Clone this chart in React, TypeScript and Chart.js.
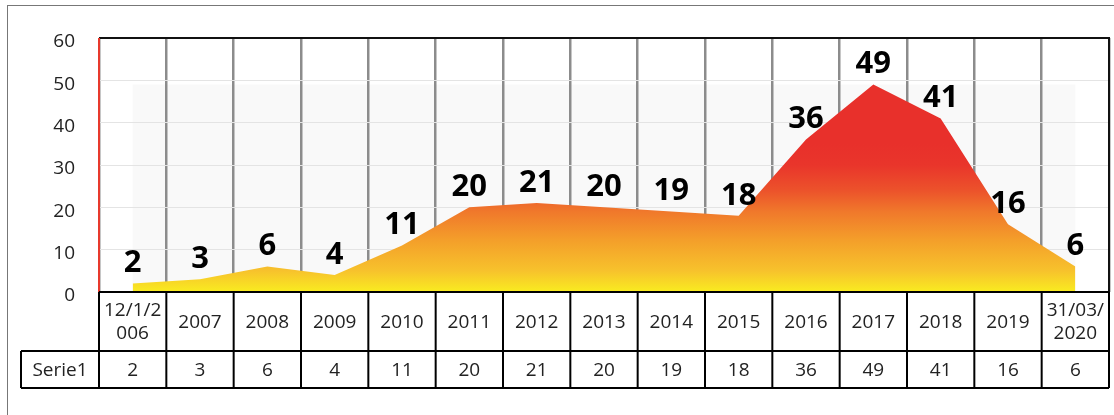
import React, { useEffect, useRef } from "react";
import { Chart, registerables } from "chart.js";

Chart.register(...registerables);

const categories: string[] = [
  "12/1/2006", "2007", "2008", "2009", "2010", "2011", "2012", "2013",
  "2014", "2015", "2016", "2017", "2018", "2019", "31/03/2020",
];
const seriesName = "Serie1";
const values: number[] = [2, 3, 6, 4, 11, 20, 21, 20, 19, 18, 36, 49, 41, 16, 6];
const yMin = 0;
const yMax = 60;
const yStep = 10;

const FONT = "'Open Sans', 'DejaVu Sans', sans-serif";

function wrapLabel(label: string, n = 6): string[] {
  if (label.length <= n) return [label];
  const out: string[] = [];
  for (let i = 0; i < label.length; i += n) out.push(label.slice(i, i + n));
  return out;
}

const shadePlugin = {
  id: "shade",
  beforeDraw(chart: any) {
    const { ctx, scales } = chart;
    const x = scales.x;
    const y = scales.y;
    if (!x || !y) return;
    const x0 = x.getPixelForValue(0);
    const x1 = x.getPixelForValue(values.length - 1);
    const yt = y.getPixelForValue(49);
    const yb = y.getPixelForValue(0);
    ctx.save();
    ctx.fillStyle = "#f9f9f9";
    ctx.fillRect(x0, yt, x1 - x0, yb - yt);
    ctx.restore();
  },
};

const framePlugin = {
  id: "frameTable",
  afterDatasetsDraw(chart: any) {
    const { ctx, chartArea, scales } = chart;
    const x = scales.x;
    const meta = chart.getDatasetMeta(0);
    ctx.save();
    // data labels
    ctx.fillStyle = "#000";
    ctx.font = `bold 31px ${FONT}`;
    ctx.textAlign = "center";
    ctx.textBaseline = "middle";
    meta.data.forEach((pt: any, i: number) => {
      ctx.fillText(String(values[i]), pt.x, pt.y - 20);
    });

    // plot frame
    const { left, right, top, bottom } = chartArea;
    ctx.lineWidth = 2;
    ctx.strokeStyle = "#111";
    ctx.beginPath();
    ctx.moveTo(left, top);
    ctx.lineTo(right, top);
    ctx.lineTo(right, bottom);
    ctx.stroke();
    ctx.strokeStyle = "#e8392c";
    ctx.beginPath();
    ctx.moveTo(left, top);
    ctx.lineTo(left, bottom);
    ctx.stroke();

    // data table
    const half = (x.getPixelForValue(1) - x.getPixelForValue(0)) / 2;
    const row1Bottom = bottom + 59;
    const row2Bottom = row1Bottom + 37;
    const headerLeft = 21;
    ctx.strokeStyle = "#000";
    ctx.lineWidth = 2;
    ctx.beginPath();
    ctx.moveTo(left, bottom);
    ctx.lineTo(right, bottom);
    ctx.moveTo(headerLeft, row1Bottom);
    ctx.lineTo(right, row1Bottom);
    ctx.moveTo(headerLeft, row2Bottom);
    ctx.lineTo(right, row2Bottom);
    ctx.moveTo(headerLeft, row1Bottom);
    ctx.lineTo(headerLeft, row2Bottom);
    for (let i = 0; i <= categories.length; i++) {
      const bx = i < categories.length ? x.getPixelForValue(i) - half : x.getPixelForValue(i - 1) + half;
      ctx.moveTo(bx, bottom);
      ctx.lineTo(bx, row2Bottom);
    }
    ctx.stroke();

    ctx.fillStyle = "#222";
    ctx.font = `19px ${FONT}`;
    ctx.textAlign = "center";
    ctx.textBaseline = "middle";
    const r1c = (bottom + row1Bottom) / 2 + 1;
    const r2c = (row1Bottom + row2Bottom) / 2 + 1;
    const lh = 23;
    categories.forEach((c, i) => {
      const cx = x.getPixelForValue(i);
      const lines = wrapLabel(c);
      const startY = r1c - ((lines.length - 1) * lh) / 2;
      lines.forEach((ln, k) => ctx.fillText(ln, cx, startY + k * lh));
      ctx.fillText(String(values[i]), cx, r2c);
    });
    ctx.fillText(seriesName, (headerLeft + left) / 2, r2c);

    // outer frame
    ctx.strokeStyle = "#777";
    ctx.lineWidth = 1;
    ctx.strokeRect(7.5, 5.5, 1300, 600);
    ctx.restore();
  },
};

export default function App() {
  const canvasRef = useRef<HTMLCanvasElement | null>(null);

  useEffect(() => {
    if (!canvasRef.current) return;
    const chart = new Chart(canvasRef.current, {
      type: "line",
      data: {
        labels: categories,
        datasets: [
          {
            label: seriesName,
            data: values,
            fill: "origin",
            tension: 0,
            borderWidth: 0,
            pointRadius: 0,
            backgroundColor: (ctx: any) => {
              const chart = ctx.chart;
              const y = chart.scales?.y;
              if (!chart.chartArea || !y) return "#f39828";
              const g = chart.ctx.createLinearGradient(0, y.getPixelForValue(0), 0, y.getPixelForValue(35));
              g.addColorStop(0, "#f9ec20");
              g.addColorStop(0.143, "#f7c22c");
              g.addColorStop(0.343, "#f4a02a");
              g.addColorStop(0.543, "#f0782b");
              g.addColorStop(0.686, "#ec522b");
              g.addColorStop(0.857, "#e9352b");
              g.addColorStop(1, "#e8302b");
              return g;
            },
          },
        ],
      },
      options: {
        animation: false,
        responsive: false,
        devicePixelRatio: 1,
        layout: { padding: { top: 38, right: 5, bottom: 123, left: 0 } },
        plugins: {
          legend: { display: false },
          tooltip: { enabled: false },
          title: { display: false },
        },
        scales: {
          x: {
            type: "category",
            offset: true,
            grid: { offset: true, color: "#8c8c8c", lineWidth: 2.5, drawTicks: false },
            border: { display: false },
            ticks: { display: false },
            afterFit: (s: any) => {
              s.height = 0;
            },
          },
          y: {
            min: yMin,
            max: yMax,
            grid: { color: "#e4e4e4", lineWidth: 1, drawTicks: false },
            border: { display: false },
            ticks: {
              stepSize: yStep,
              padding: 24,
              labelOffset: 4,
              color: "#222",
              font: { family: FONT, size: 19 },
            },
            afterFit: (s: any) => {
              s.width = 99;
            },
          },
        },
      },
      plugins: [shadePlugin, framePlugin],
    });
    return () => chart.destroy();
  }, []);

  return (
    <div style={{ position: "fixed", left: 0, top: 0, width: 1114, height: 415, background: "#fff" }}>
      <canvas ref={canvasRef} width={1114} height={415} style={{ display: "block" }} />
    </div>
  );
}
